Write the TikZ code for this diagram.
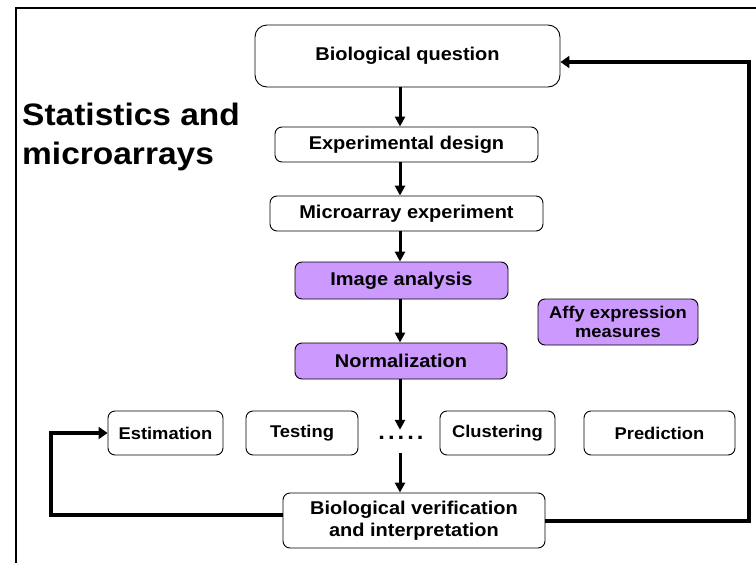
\documentclass[tikz,border=0pt]{standalone}
\usepackage{fontspec}
\setmainfont{Liberation Sans}[FakeStretch=1.08]
\usetikzlibrary{arrows, arrows.meta}
\definecolor{lilac}{RGB}{204,153,255}

\begin{document}
\begin{tikzpicture}[x=1pt, y=-1pt,
    bigtext/.style={font=\bfseries\fontsize{18.5}{21.5}\selectfont},
    smalltext/.style={font=\bfseries\fontsize{17}{19.5}\selectfont},
    box/.style={draw, rounded corners=7pt, line width=0.9pt, inner sep=0pt, align=center, bigtext},
    rowbox/.style={box, minimum height=44pt, smalltext},
    purplebox/.style={box, fill=lilac},
    flow/.style={-{Triangle[length=10pt, width=10pt]}, line width=3pt},
    feedback/.style={-{Triangle[length=9pt, width=12pt]}, line width=4pt}]
    \useasboundingbox (0,0) rectangle (756,563);
    \draw[line width=1.6pt] (16,563) -- (16,8) -- (756,8);

    \node[align=left, anchor=west, inner sep=0pt, font=\bfseries\fontsize{31}{39}\selectfont] (title) at (22,137) {Statistics and\\microarrays};

    \node[box, rounded corners=12pt, minimum width=305pt, minimum height=62pt] (bioq) at (407.5,56) {Biological question};
    \node[box, minimum width=263pt, minimum height=35pt] (expd) at (406.5,144.5) {Experimental design};
    \node[box, minimum width=273pt, minimum height=35pt] (micro) at (406.5,213.5) {Microarray experiment};
    \node[purplebox, minimum width=213pt, minimum height=37pt] (image) at (401.5,280.5) {Image analysis};
    \node[purplebox, minimum width=212pt, minimum height=36pt] (norm) at (401,361) {Normalization};
    \node[purplebox, minimum width=160pt, minimum height=46pt, smalltext] (affy) at (618,322) {Affy expression\\measures};

    \node[rowbox, minimum width=115pt] (est) at (165.5,433) {Estimation};
    \node[rowbox, minimum width=112pt] (test) at (302,433) {Testing};
    \node[inner sep=0pt, minimum height=23pt, text depth=8pt, font=\bfseries\fontsize{22}{24}\selectfont] (dots) at (401,441.5) {.\hspace{3pt}.\hspace{3pt}.\hspace{3pt}.\hspace{3pt}.};
    \node[rowbox, minimum width=115pt] (clus) at (497.5,433) {Clustering};
    \node[rowbox, minimum width=151pt] (pred) at (659.5,433) {Prediction};

    \node[box, minimum width=262pt, minimum height=55pt] (verif) at (414,520.5) {Biological verification\\and interpretation};

    % main flow down the middle
    \coordinate (axis) at (400,0);
    \draw[flow] (bioq.south -| axis) -- (expd.north -| axis);
    \draw[flow] (expd.south -| axis) -- (micro.north -| axis);
    \draw[flow] (micro.south -| axis) -- (image.north -| axis);
    \draw[flow] (image.south -| axis) -- (norm.north -| axis);
    \draw[flow] (norm.south -| axis) -- (dots.north -| axis);
    \draw[flow] (dots.south -| axis) -- (verif.north -| axis);

    % feedback loops
    \coordinate (lturn) at (51,0);
    \coordinate (rturn) at (749,0);
    \draw[feedback] ([yshift=6pt]verif.west) -| (lturn |- est.west) -- (est.west);
    \draw[feedback] (verif.east) -| ([yshift=-6pt]rturn |- bioq.east) -- ([yshift=-6pt]bioq.east);
\end{tikzpicture}
\end{document}
